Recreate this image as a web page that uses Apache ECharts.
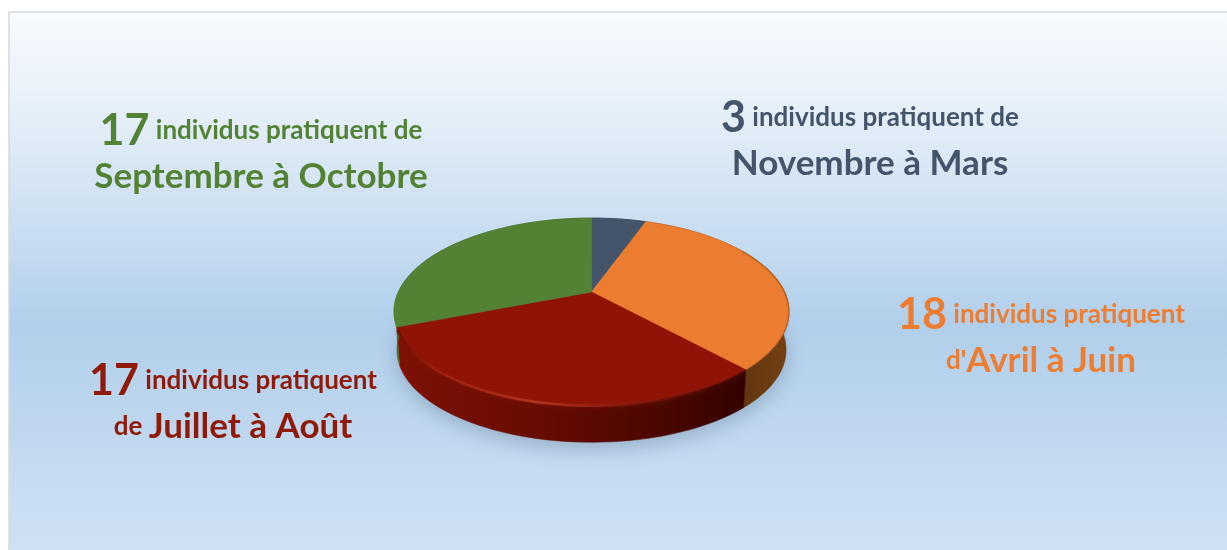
<!DOCTYPE html>
<html>
<head>
<meta charset="utf-8">
<script src="https://cdn.jsdelivr.net/npm/echarts@6/dist/echarts.min.js"></script>
<style>
  html, body { margin: 0; padding: 0; background: #fff; overflow: hidden; }
  #main { width: 1227px; height: 550px; }
</style>
</head>
<body>
<div id="main"></div>
<script>
  // donnees
  var periods = ['Novembre à Mars', 'Avril à Juin', 'Juillet à Août', 'Septembre à Octobre'];
  var values = [3, 18, 17, 17];
  var phrases = ['individus pratiquent de', 'individus pratiquent', 'individus pratiquent', 'individus pratiquent de'];
  var prefixes = ['', "d'", 'de ', ''];

  var faceColors = ['#44546a', '#ec7c30', '#8f1306', '#548235'];
  var textColors = ['#44546a', '#ed7d31', '#8f1a0a', '#548235'];
  var labelPos = [[870, 141], [1041, 338], [233, 404], [261, 154]];

  // disque vu en perspective
  var CX = 591.5, CY = 292, RX = 193.2, RY = 89.4, K = 0.2086;
  var DEPTH = 39, BASE = 0.985;
  var total = values.reduce(function (a, b) { return a + b; }, 0);

  function proj(deg, dy, f) {
    var t = deg * Math.PI / 180;
    var s = 1 / (1 + K * Math.cos(t));
    return [CX + RX * f * Math.sin(t) * s, CY + dy - RY * f * Math.cos(t) * s];
  }
  function arc(a, b, dy, f) {
    var pts = [];
    var n = Math.max(2, Math.ceil(Math.abs(b - a) / 2));
    for (var i = 0; i <= n; i++) {
      pts.push(proj(a + (b - a) * i / n, dy, f));
    }
    return pts;
  }
  function sectorAngles(idx, sweep) {
    var before = 0;
    for (var i = 0; i < idx; i++) before += values[i];
    var a = before / total * 360;
    return [a, a + sweep / total * 360];
  }
  function hGrad(x1, x2, stops) {
    return new echarts.graphic.LinearGradient(x1, 0, x2, 0, stops, true);
  }

  var wallFill = [
    '#2f3b4c',
    hGrad(735, 790, [{ offset: 0, color: '#5f3410' }, { offset: 1, color: '#744011' }]),
    hGrad(397, 745, [
      { offset: 0, color: '#7d1104' },
      { offset: 0.45, color: '#640b02' },
      { offset: 0.8, color: '#470600' },
      { offset: 1, color: '#330300' }
    ]),
    hGrad(394, 420, [{ offset: 0, color: '#4a7030' }, { offset: 1, color: '#3a5c25' }])
  ];

  function renderShadow(params, api) {
    if (params.dataIndex !== 0) return null;
    return {
      type: 'polygon',
      shape: { points: arc(0, 360, DEPTH - 3, BASE) },
      style: {
        fill: '#7d93a8',
        shadowBlur: 20,
        shadowOffsetY: 9,
        shadowColor: 'rgba(60,85,115,0.32)'
      }
    };
  }
  function renderWall(params, api) {
    var ang = sectorAngles(params.dataIndex, api.value(0));
    var pts = arc(ang[0], ang[1], 0, 1).concat(arc(ang[1], ang[0], DEPTH, BASE));
    return {
      type: 'polygon',
      shape: { points: pts },
      style: { fill: wallFill[params.dataIndex], stroke: wallFill[params.dataIndex], lineWidth: 0.5 }
    };
  }
  function renderFace(params, api) {
    var idx = params.dataIndex;
    var ang = sectorAngles(idx, api.value(0));
    var pts = [[CX, CY]].concat(arc(ang[0], ang[1], 0, 1));
    var children = [{
      type: 'polygon',
      shape: { points: pts },
      style: { fill: faceColors[idx], stroke: faceColors[idx], lineWidth: 0.6 }
    }];
    // reflet sur l'arete avant
    if (idx === 2) {
      children.push({
        type: 'polyline',
        shape: { points: arc(ang[0] + 1, ang[1] - 1, 1, 0.998) },
        style: {
          fill: null,
          lineWidth: 2.6,
          stroke: hGrad(398, 742, [
            { offset: 0, color: 'rgba(100,10,0,0.9)' },
            { offset: 0.12, color: 'rgba(170,40,20,0.6)' },
            { offset: 0.4, color: 'rgba(186,52,30,0.95)' },
            { offset: 0.72, color: 'rgba(130,24,10,0.7)' },
            { offset: 1, color: 'rgba(70,6,0,0.4)' }
          ]),
          shadowBlur: 5,
          shadowColor: 'rgba(150,30,15,0.6)'
        }
      });
    }
    if (idx === 1) {
      children.push({
        type: 'polyline',
        shape: { points: arc(ang[0] + 40, ang[1], 0.5, 0.999) },
        style: { fill: null, lineWidth: 1.4, stroke: 'rgba(120,66,24,0.35)', shadowBlur: 3, shadowColor: 'rgba(120,66,24,0.35)' }
      });
    }
    return { type: 'group', children: children };
  }

  function labelText(i) {
    return '{n|' + values[i] + '}{s| ' + phrases[i] + '}\n' +
      (prefixes[i] ? '{s|' + prefixes[i] + '}' : '') + '{b|' + periods[i] + '}';
  }
  var labels = periods.map(function (p, i) {
    return {
      type: 'text',
      x: labelPos[i][0],
      y: labelPos[i][1],
      z: 10,
      style: {
        text: labelText(i),
        align: 'center',
        verticalAlign: 'middle',
        fontFamily: 'Lato',
        fontWeight: 'bold',
        fill: textColors[i],
        rich: {
          n: { fontSize: 43, fontWeight: 'bold', fontFamily: 'Lato', fill: textColors[i], lineHeight: 46 },
          s: { fontSize: 26, fontWeight: 'bold', fontFamily: 'Lato', fill: textColors[i], lineHeight: 46 },
          b: { fontSize: 35, fontWeight: 'bold', fontFamily: 'Lato', fill: textColors[i], lineHeight: 46 }
        }
      }
    };
  });

  var background = {
    type: 'rect',
    z: -10,
    shape: { x: 9, y: 12, width: 1240, height: 560 },
    style: {
      stroke: '#d9d9d9',
      lineWidth: 1.5,
      fill: new echarts.graphic.LinearGradient(0, 12, 0, 550, [
        { offset: 0, color: '#f8fbff' },
        { offset: 0.2, color: '#e4eef8' },
        { offset: 0.4, color: '#cadef1' },
        { offset: 0.58, color: '#b1cfeb' },
        { offset: 0.75, color: '#bdd6ee' },
        { offset: 1, color: '#cfe2f3' }
      ], true)
    }
  };

  var chart = echarts.init(document.getElementById('main'));
  chart.setOption({
    animation: false,
    graphic: { elements: [background].concat(labels) },
    series: [
      { type: 'custom', coordinateSystem: 'none', silent: true, z: 2, renderItem: renderShadow, data: values },
      { type: 'custom', coordinateSystem: 'none', silent: true, z: 3, renderItem: renderWall, data: values },
      { type: 'custom', coordinateSystem: 'none', silent: true, z: 4, renderItem: renderFace, data: values }
    ]
  });
</script>
</body>
</html>
